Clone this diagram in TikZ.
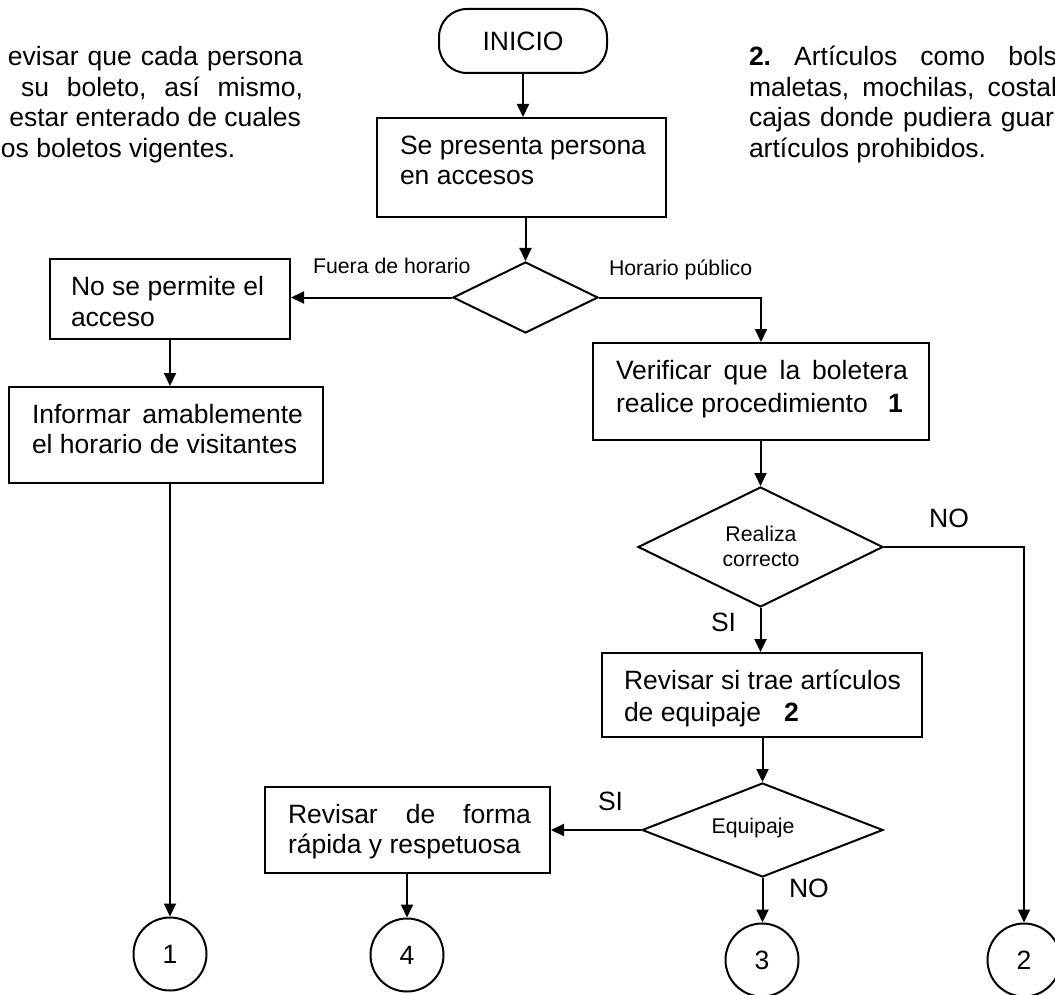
\documentclass[tikz,border=0pt]{standalone}
\usepackage{fontspec}
\setmainfont{Liberation Sans}
\usetikzlibrary{arrows.meta,shapes.geometric}
\newcommand\bigf{\fontsize{26.5}{30.5}\selectfont}
\newcommand\smf{\fontsize{21.3}{25}\selectfont}
\frenchspacing
\begin{document}
\begin{tikzpicture}[x=1pt,y=-1pt,line width=2pt,
  box/.style={draw,rectangle,inner sep=0pt},
  dia/.style={draw,diamond,inner sep=0pt},
  conn/.style={draw,circle,inner sep=0pt,minimum size=73pt,font=\bigf},
  startbox/.style={draw,rectangle,rounded corners=28pt,minimum width=168pt,minimum height=64pt,font=\bigf,inner sep=0pt},
  txt/.style={anchor=base west,inner sep=0pt,font=\bigf},
  stxt/.style={anchor=base west,inner sep=0pt,font=\smf},
  arr/.style={-{Triangle[length=13pt,width=12pt]}}]
\useasboundingbox (0,0) rectangle (1055,995);
\clip (0,0) rectangle (1055,995);
\fill[white] (0,0) rectangle (1055,995);

% side notes
\node[txt] (l1) at (7,66) {\makebox[295pt][s]{evisar que cada persona}};
\node[txt] (l2) at (20,96.5) {\makebox[282pt][s]{su boleto, así mismo,}};
\node[txt,anchor=base east] (l3) at (302,127) {estar enterado de cuales};
\node[txt] (l4) at (0,157.5) {os boletos vigentes.};

\node[txt] (r1) at (748,66) {\makebox[308pt][s]{\textbf{2.} Artículos como bols}};
\node[txt] (r2) at (748,96.5) {\makebox[308pt][s]{maletas, mochilas, costal}};
\node[txt] (r3) at (748,127) {\makebox[305pt][s]{cajas donde pudiera guar}};
\node[txt] (r4) at (748,157.5) {artículos prohibidos.};

% shapes
\node[startbox] (inicio) at (523,41) {INICIO};
\node[box,minimum width=289pt,minimum height=99pt] (se) at (521.5,167.5) {};
\node[dia,minimum width=145pt,minimum height=71pt] (d1) at (525.5,297.5) {};
\node[box,minimum width=240pt,minimum height=80pt] (nsp) at (170,299) {};
\node[box,minimum width=314pt,minimum height=96pt] (inf) at (166,435) {};
\node[box,minimum width=336pt,minimum height=97pt] (ver) at (761,391.5) {};
\node[dia,minimum width=245pt,minimum height=120pt] (d2) at (760.5,547) {};
\node[box,minimum width=320pt,minimum height=84pt] (rev) at (762,695) {};
\node[dia,minimum width=241pt,minimum height=94pt] (d3) at (762.5,830) {};
\node[box,minimum width=285pt,minimum height=86pt] (rf) at (407.5,830) {};
\node[conn] (c1) at (170,954) {1};
\node[conn] (c4) at (407,955) {4};
\node[conn] (c3) at (762,960) {3};
\node[conn] (c2) at (1024,960) {2};

% box texts
\node[txt] (t1) at (399,155) {Se presenta persona};
\node[txt] (t2) at (399,185) {en accesos};
\node[txt] (t3) at (70,295) {No se permite el};
\node[txt] (t4) at (70,326) {acceso};
\node[txt] (t5) at (31,423) {\makebox[271pt][s]{Informar amablemente}};
\node[txt] (t6) at (31,453) {el horario de visitantes};
\node[txt] (t7) at (615,379) {\makebox[292pt][s]{Verificar que la boletera}};
\node[txt] (t8) at (615,412) {realice procedimiento};
\node[txt] (t8b) at (887,412) {\textbf{1}};
\node[txt] (t9) at (623,689) {Revisar si trae artículos};
\node[txt] (t10) at (623,721) {de equipaje};
\node[txt] (t10b) at (783,721) {\textbf{2}};
\node[txt] (t11) at (287,823) {\makebox[243pt][s]{Revisar de forma}};
\node[txt] (t12) at (287,853) {rápida y respetuosa};
\node[stxt,anchor=base] (t13) at (761,541) {Realiza};
\node[stxt,anchor=base] (t14) at (761,566) {correcto};
\node[stxt,anchor=base] (t15) at (753,833) {Equipaje};

% edge labels
\node[stxt] (lf) at (312,273) {Fuera de horario};
\node[stxt] (lh) at (608,276) {Horario público};
\node[txt,anchor=base] (lno1) at (949,527) {NO};
\node[txt] (lsi1) at (710,631) {SI};
\node[txt] (lsi2) at (597,810) {SI};
\node[txt] (lno2) at (788,897) {NO};

% connectors
\draw[arr] (inicio.south) -- (inicio.south |- se.north);
\draw[arr] (d1.north |- se.south) -- (d1.north);
\draw[arr] (d1.west) -- (d1.west -| nsp.east);
\draw[arr] (d1.east) -| (ver.north);
\draw[arr] (nsp.south) -- (nsp.south |- inf.north);
\draw[arr] (c1.north |- inf.south) -- (c1.north);
\draw[arr] (d2.north |- ver.south) -- (d2.north);
\draw[arr] (d2.east) -| (c2.north);
\draw[arr] (d2.south) -- (d2.south |- rev.north);
\draw[arr] (d3.north |- rev.south) -- (d3.north);
\draw[arr] (d3.west) -- (d3.west -| rf.east);
\draw[arr] (c4.north |- rf.south) -- (c4.north);
\draw[arr] (d3.south) -- (d3.south |- c3.north);
\end{tikzpicture}
\end{document}
